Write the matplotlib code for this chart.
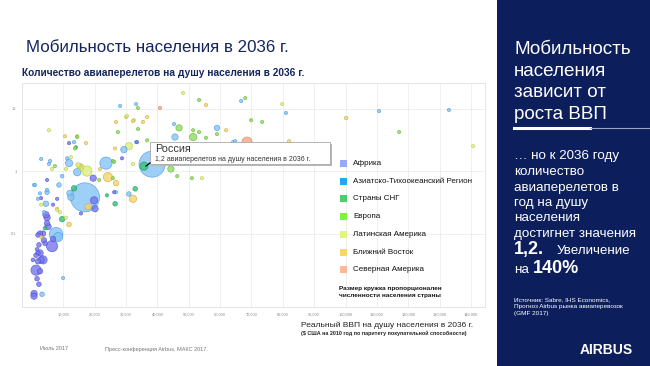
import numpy as np
import matplotlib.pyplot as plt
from matplotlib.patches import Rectangle
from matplotlib.lines import Line2D
from matplotlib.ticker import FixedLocator, FixedFormatter, NullLocator

plt.rcParams['font.family'] = ['Liberation Sans', 'DejaVu Sans']

W, H = 650, 366

# регионы и цвета
regions = ['Африка', 'Азиатско-Тихоокеанский Регион', 'Страны СНГ', 'Европа',
           'Латинская Америка', 'Ближний Восток', 'Северная Америка']
legend_colors = ['#9aa6f7', '#1eaaf3', '#4ccd6c', '#7ff23f', '#ddf77e', '#f6d76c', '#ffb796']
face_colors = ['#7476ee', '#86c4f4', '#2fc47a', '#8ddc5c', '#dcf07a', '#f3d46a', '#f6a684']
edge_colors = ['#4f50cf', '#4a9ae0', '#1e9a5c', '#62b838', '#b5c850', '#d0aa3c', '#d9805e']

# ВВП на душу (USD), авиаперелеты на душу, население (млн)
africa_gdp = [19500, 20100, 19800, 15600, 6400, 6700, 2550, 3500, 1900, 3800,
              4150, 2200, 1600, 2550, 1280, 1900, 2900, 1900, 300, 3500,
              1280, 2550, 1600, 2200, 640, 640, 4800, 4450, 4800, 5100,
              6700, 8000, 4800, 11800, 28700, 33500, 26200, 2900]
africa_trips = [0.77, 0.25, 0.34, 0.21, 0.063, 0.082, 0.10, 0.10, 0.095, 0.078,
                0.070, 0.066, 0.056, 0.049, 0.045, 0.049, 0.038, 0.036, 0.038, 0.038,
                0.026, 0.025, 0.019, 0.0155, 0.011, 0.010, 0.18, 0.20, 0.147, 0.13,
                0.29, 0.36, 0.72, 2.8, 1.6, 2.9, 0.46, 0.37]
africa_pop = [62, 62, 85, 10, 210, 43, 43, 43, 28, 43,
              28, 28, 15, 62, 28, 28, 62, 43, 15, 110,
              172, 43, 28, 28, 62, 62, 62, 62, 43, 62,
              10, 10, 10, 10, 10, 10, 10, 10]

asia_gdp = [16900, 38300, 7650, 8300, 23600, 11800, 14400, 12100, 12400, 29300,
            45600, 59000, 30900, 8600, 4450, 9600, 5750, 2900, 960, 1900,
            3800, 9900, 3200, 28100, 33200, 45300, 33200, 64100, 64800, 66700,
            81000, 110700, 133000, 11200, 13400, 26800, 4800, 640, 2550, 4800, 5400]
asia_trips = [0.38, 1.29, 0.098, 0.088, 1.34, 1.34, 0.96, 0.44, 0.38, 2.2,
              3.5, 4.9, 0.43, 0.60, 0.30, 0.83, 1.45, 1.56, 0.60, 0.36,
              0.22, 0.0195, 0.0107, 11.0, 11.8, 5.65, 2.9, 2.9, 3.0, 13.2,
              8.5, 9.1, 9.5, 1.6, 2.9, 0.46, 0.50, 0.60, 0.44, 0.46, 1.3]
asia_pop = [1450, 1170, 310, 140, 250, 85, 85, 62, 62, 62,
            62, 43, 28, 28, 43, 15, 10, 10, 10, 10,
            10, 10, 28, 10, 10, 10, 10, 10, 10, 10,
            10, 10, 10, 10, 10, 10, 10, 10, 10, 28, 10]

cis_gdp = [35700, 13400, 9600, 26500, 32900, 4150, 14000, 23900]
cis_trips = [1.2, 0.53, 0.17, 0.30, 0.52, 0.122, 2.4, 0.41]
cis_pop = [110, 43, 43, 28, 28, 15, 10, 10]

europe_gdp = [53300, 68000, 69900, 73400, 117100, 33800, 27400, 46900, 51400, 53300,
              51400, 55500, 59000, 36700, 25800, 25800, 21400, 44300, 46300, 51000,
              33800, 26200, 7300, 13700, 14400]
europe_trips = [13.7, 14.7, 6.5, 6.1, 4.2, 4.7, 4.2, 4.9, 4.5, 4.2,
                3.5, 3.4, 3.9, 3.1, 1.45, 0.77, 0.72, 1.08, 0.83, 0.77,
                10.2, 1.4, 1.2, 2.3, 3.5]
europe_pop = [10, 10, 10, 10, 10, 10, 10, 62, 10, 10,
              85, 10, 10, 10, 10, 10, 10, 62, 10, 10,
              10, 10, 10, 10, 10]

latam_gdp = [48200, 79800, 140700, 30300, 30900, 17500, 15600, 14700, 10800, 6400,
             5400, 12400, 10800, 8000, 8900, 2900, 54200, 32200, 32500]
latam_trips = [17.7, 11.8, 2.5, 7.6, 2.5, 1.0, 1.16, 1.25, 1.08, 1.08,
               4.5, 1.67, 0.18, 0.24, 0.22, 0.29, 0.77, 1.3, 6.5]
latam_pop = [10, 10, 10, 10, 85, 172, 62, 28, 10, 10,
             10, 10, 10, 10, 10, 10, 10, 10, 10]

me_gdp = [100200, 82000, 61900, 32200, 26800, 35400, 30000, 26500, 24200, 26800,
          21700, 15300, 32200, 17900, 11800, 10500, 14400, 17200, 36700, 2900,
          8000, 55500]
me_trips = [7.05, 3.0, 4.5, 6.3, 6.1, 6.1, 7.3, 2.3, 0.80, 0.64,
            1.08, 1.2, 0.36, 0.27, 0.14, 3.6, 3.6, 2.8, 7.3, 0.088,
            0.25, 11.4]
me_pop = [15, 10, 10, 10, 10, 10, 10, 10, 140, 43,
          10, 28, 85, 62, 28, 10, 10, 10, 10, 10,
          10, 10]

na_gdp = [68600, 40800]
na_trips = [2.9, 10.2]
na_pop = [172, 10]

x_ticks = [10000 * i for i in range(1, 15)]
x_labels = ['{:,}'.format(v) for v in x_ticks]
y_ticks = [0.1, 1, 10]
y_labels = ['0.1', '1', '10']

panel_title = ['Мобильность', 'населения', 'зависит от', 'роста ВВП']
panel_body = ['… но к 2036 году', 'количество', 'авиаперелетов в', 'год на душу',
              'населения', 'достигнет значения']

all_gdp = [africa_gdp, asia_gdp, cis_gdp, europe_gdp, latam_gdp, me_gdp, na_gdp]
all_trips = [africa_trips, asia_trips, cis_trips, europe_trips, latam_trips, me_trips, na_trips]
all_pop = [africa_pop, asia_pop, cis_pop, europe_pop, latam_pop, me_pop, na_pop]


def fx(px):
    return px / W


def fy(py):
    return 1 - py / H


fig = plt.figure(figsize=(6.5, 3.66), dpi=100)
fig.patch.set_facecolor('white')

ax = fig.add_axes([fx(22), fy(307), fx(485) - fx(22), fy(83) - fy(307)])

# точки: большие кружки снизу, маленькие сверху
xs, ys, ss, fcs, ecs = [], [], [], [], []
for i in range(len(regions)):
    for g, t, p in zip(all_gdp[i], all_trips[i], all_pop[i]):
        xs.append(g)
        ys.append(t)
        ss.append(p * 0.3 + 2.5)
        fcs.append(face_colors[i])
        ecs.append(edge_colors[i])
order = np.argsort(ss)[::-1]
ax.scatter(np.array(xs)[order], np.array(ys)[order], s=np.array(ss)[order],
           c=[fcs[k] for k in order], edgecolors=[ecs[k] for k in order],
           linewidths=0.5, alpha=0.8, zorder=3)

ax.set_yscale('log')
ax.set_xlim(-3200, 144500)
ax.set_ylim(0.0067, 25.6)
ax.xaxis.set_major_locator(FixedLocator(x_ticks))
ax.xaxis.set_major_formatter(FixedFormatter(x_labels))
ax.yaxis.set_major_locator(FixedLocator(y_ticks))
ax.yaxis.set_major_formatter(FixedFormatter(y_labels))
ax.yaxis.set_minor_locator(NullLocator())
ax.tick_params(length=0, labelsize=2.8, colors='#8a8a8a', pad=4)
ax.grid(True, color='#ececec', linewidth=0.6, zorder=0)
ax.set_axisbelow(True)
for sp in ax.spines.values():
    sp.set_color('#e2e2e2')
    sp.set_linewidth(0.6)

# всплывающая подсказка (Россия)
fig.patches.append(Rectangle((fx(152), fy(166)), fx(332) - fx(152), fy(144) - fy(166),
                             transform=fig.transFigure, facecolor='#b8b8b8',
                             edgecolor='none', zorder=5))
fig.patches.append(Rectangle((fx(150), fy(164)), fx(330) - fx(150), fy(142) - fy(164),
                             transform=fig.transFigure, facecolor='white',
                             edgecolor='#a8a8a8', linewidth=0.6, zorder=6))
fig.text(fx(155), fy(152), 'Россия', fontsize=7.8, color='#333333', zorder=7,
         va='baseline')
fig.text(fx(155), fy(161), '1,2 авиаперелетов на душу населения в 2036 г.', fontsize=5,
         color='#333333', zorder=7, va='baseline')
fig.lines.append(Line2D([fx(146), fx(150)], [fy(166), fy(163)], transform=fig.transFigure,
                        color='black', linewidth=0.9, zorder=7))

# легенда
for i, name in enumerate(regions):
    py = 163.5 + i * 17.7
    fig.patches.append(Rectangle((fx(340), fy(py + 3.5)), fx(7), 7 / H,
                                 transform=fig.transFigure, facecolor=legend_colors[i],
                                 edgecolor='none', zorder=6))
    fig.text(fx(353), fy(py), name, fontsize=5.8, color='#111111', va='center', zorder=7)
fig.text(fx(339), fy(292), 'Размер кружка пропорционален\nчисленности населения страны',
         fontsize=4.6, fontweight='bold', color='#111111', va='center', linespacing=1.35)

# заголовки
fig.text(fx(26), fy(47), 'Мобильность населения в 2036 г.', fontsize=12.2,
         color='#13255c', va='center')
fig.text(fx(22), fy(73), 'Количество авиаперелетов на душу населения в 2036 г.',
         fontsize=7.3, fontweight='bold', color='#13255c', va='center')
fig.text(fx(301), fy(325), 'Реальный ВВП на душу населения в 2036 г.', fontsize=6,
         color='#222222', va='center')
fig.text(fx(301), fy(333.5), '($ США на 2010 год по паритету покупательной способности)',
         fontsize=3.9, fontweight='bold', color='#222222', va='center')
fig.text(fx(40), fy(348), 'Июль 2017', fontsize=4, color='#777777', va='center')
fig.text(fx(105), fy(349), 'Пресс-конференция Airbus, МАКС 2017.', fontsize=4,
         color='#777777', va='center')

# правая панель
fig.patches.append(Rectangle((fx(497), 0), 1 - fx(497), 1, transform=fig.transFigure,
                             facecolor='#0c1f5c', edgecolor='none', zorder=1))
for i, line in enumerate(panel_title):
    fig.text(fx(514), fy(54 + i * 21.7), line, fontsize=13.6, color='white',
             va='baseline', zorder=2)
fig.lines.append(Line2D([fx(514), fx(590)], [fy(128), fy(128)], transform=fig.transFigure,
                        color='white', linewidth=2.2, zorder=2))
fig.lines.append(Line2D([fx(590), fx(650)], [fy(128), fy(128)], transform=fig.transFigure,
                        color='#9aa4c4', linewidth=0.8, zorder=2))
for i, line in enumerate(panel_body):
    fig.text(fx(514), fy(159.5 + i * 15.5), line, fontsize=9.6, color='white',
             va='baseline', zorder=2)
fig.text(fx(514), fy(254), '1,2.', fontsize=13, fontweight='bold', color='white',
         va='baseline', zorder=2)
fig.text(fx(557), fy(254), 'Увеличение', fontsize=9.6, color='white', va='baseline', zorder=2)
fig.text(fx(514), fy(273), 'на', fontsize=9.6, color='white', va='baseline', zorder=2)
fig.text(fx(533), fy(273), '140%', fontsize=13, fontweight='bold', color='white',
         va='baseline', zorder=2)
fig.text(fx(514), fy(297), 'Источник: Sabre, IHS Economics,\nПрогноз Airbus рынка авиаперевозок\n'
         '(GMF 2017)', fontsize=4.6, color='white', va='top', linespacing=1.55, zorder=2)
fig.text(fx(580), fy(350), 'AIRBUS', fontsize=10, fontweight='bold', color='white',
         va='center', zorder=2)

fig.savefig('out.png', dpi=100)
